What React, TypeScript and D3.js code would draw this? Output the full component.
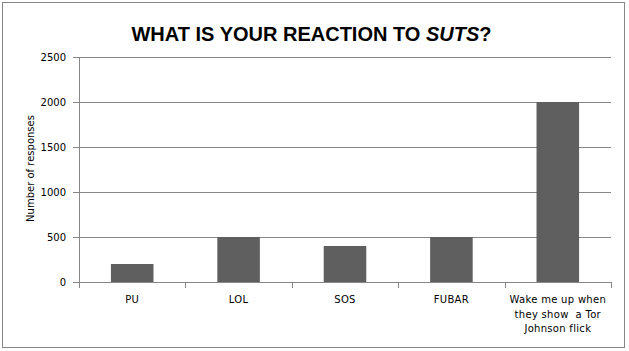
import React, { useEffect, useRef } from 'react';
import * as d3 from 'd3';

// Chart data
const categories = ['PU', 'LOL', 'SOS', 'FUBAR', 'Wake me up when they show a Tor Johnson flick'];
const categoryLines = [['PU'], ['LOL'], ['SOS'], ['FUBAR'], ['Wake me up when', 'they show  a Tor', 'Johnson flick']];
const responses = [200, 500, 400, 500, 2000];
const yTicks = [0, 500, 1000, 1500, 2000, 2500];

const App = () => {
  const ref = useRef<SVGSVGElement>(null);

  useEffect(() => {
    const width = 629;
    const svg = d3.select(ref.current);
    svg.selectAll('*').remove();

    // Outer chart border
    svg.append('rect')
      .attr('x', 2.5)
      .attr('y', 2.5)
      .attr('width', 622)
      .attr('height', 345)
      .attr('fill', '#fff')
      .attr('stroke', '#868686')
      .attr('stroke-width', 1);

    const left = 79;
    const right = 611;
    const top = 57;
    const bottom = 282;

    const x = d3.scaleBand<string>()
      .domain(categories)
      .range([left, right])
      .paddingInner(0)
      .paddingOuter(0);

    const y = d3.scaleLinear()
      .domain([0, 2500])
      .range([bottom, top]);

    // Gridlines
    svg.append('g')
      .selectAll('line')
      .data(yTicks)
      .enter()
      .append('line')
      .attr('x1', left - 6)
      .attr('x2', right)
      .attr('y1', d => Math.round(y(d)) + 0.5)
      .attr('y2', d => Math.round(y(d)) + 0.5)
      .attr('stroke', '#868686')
      .attr('stroke-width', 1);

    // Y axis line
    svg.append('line')
      .attr('x1', left + 0.5)
      .attr('x2', left + 0.5)
      .attr('y1', top)
      .attr('y2', bottom + 5)
      .attr('stroke', '#868686');

    // Category ticks
    const edges = categories.map(c => x(c) as number).concat([right]);
    svg.append('g')
      .selectAll('line')
      .data(edges)
      .enter()
      .append('line')
      .attr('x1', d => Math.round(d) + 0.5)
      .attr('x2', d => Math.round(d) + 0.5)
      .attr('y1', bottom)
      .attr('y2', bottom + 6)
      .attr('stroke', '#868686');

    // Bars
    const barW = x.bandwidth() * 0.4;
    svg.append('g')
      .selectAll('rect')
      .data(responses)
      .enter()
      .append('rect')
      .attr('x', (d, i) => (x(categories[i]) as number) + x.bandwidth() / 2 - barW / 2)
      .attr('y', d => y(d))
      .attr('width', barW)
      .attr('height', d => bottom - y(d))
      .attr('fill', '#5f5f5f');

    // Y tick labels
    svg.append('g')
      .selectAll('text')
      .data(yTicks)
      .enter()
      .append('text')
      .attr('x', 66)
      .attr('y', d => y(d) + 3.5)
      .attr('text-anchor', 'end')
      .style('font-family', 'DejaVu Sans')
      .style('font-size', '10px')
      .style('fill', '#000')
      .text(d => d);

    // X labels
    const xl = svg.append('g')
      .selectAll('text')
      .data(categoryLines)
      .enter()
      .append('text')
      .attr('text-anchor', 'middle')
      .style('font-family', 'DejaVu Sans')
      .style('font-size', '10px')
      .style('letter-spacing', '0.3px')
      .style('fill', '#000')
      .attr('transform', (d, i) => `translate(${(x(categories[i]) as number) + x.bandwidth() / 2}, 303)`);
    xl.selectAll('tspan')
      .data(d => d)
      .enter()
      .append('tspan')
      .attr('x', 0)
      .attr('y', (d, i) => i * 14.5)
      .style('white-space', 'pre')
      .text(d => d);

    // Y axis title
    svg.append('text')
      .attr('transform', `translate(34, ${(top + bottom) / 2 - 1}) rotate(-90)`)
      .attr('text-anchor', 'middle')
      .style('font-family', 'DejaVu Sans')
      .style('font-size', '10px')
      .style('fill', '#000')
      .text('Number of responses');

    // Title
    const title = svg.append('text')
      .attr('x', width / 2 - 3)
      .attr('y', 41)
      .attr('text-anchor', 'middle')
      .style('font-family', 'Liberation Sans')
      .style('font-size', '20px')
      .style('font-weight', 'bold')
      .style('fill', '#000');
    title.append('tspan').text('WHAT IS YOUR REACTION TO ');
    title.append('tspan').style('font-style', 'italic').text('SUTS');
    title.append('tspan').text('?');
  }, []);

  return (
    <svg ref={ref} width={629} height={351} style={{ display: 'block', position: 'absolute', left: 0, top: 0 }} />
  );
};

export default App;
